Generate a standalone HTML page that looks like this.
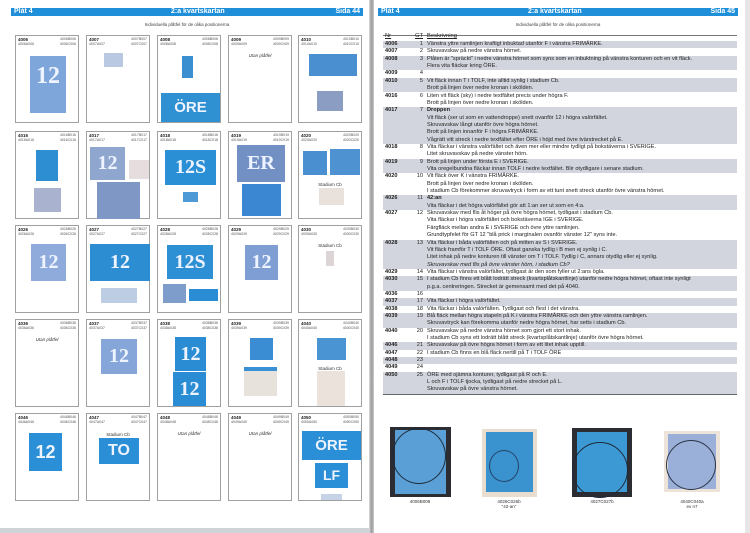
<!DOCTYPE html>
<html><head><meta charset="utf-8">
<style>
*{margin:0;padding:0;box-sizing:border-box}
body{width:750px;height:533px;position:relative;background:#fff;font-family:"Liberation Sans",sans-serif;overflow:hidden;color:#222}
.a{position:absolute}
.bar{position:absolute;top:8px;height:8px;background:#1e8fd8;color:#fff;font-weight:bold;font-size:7px;line-height:8px}
.bar span{position:absolute}
.sub{position:absolute;top:22px;font-size:4.5px;color:#444;text-align:center}
.card{position:absolute;width:64px;height:88px;border:1px solid #a0a0a0;background:#fff}
.card .id{position:absolute;left:2px;top:1px;font-size:4.5px;font-weight:bold}
.card .c{position:absolute;font-size:3.5px;color:#555}
.card .t{position:absolute;left:0;width:62px;text-align:center;font-size:4.5px;color:#333}
.s{position:absolute;color:#eef4ff;font-weight:bold;font-family:"Liberation Serif",serif;text-align:center;overflow:hidden}
.row{position:absolute;left:383px;width:354px;font-size:5.6px;line-height:7.35px;color:#222}
.row.h{background:#d3d5de}
.row .n{position:absolute;left:2px;font-weight:bold}
.row .g{position:absolute;left:30px;width:10px;text-align:right}
.row .d{position:absolute;left:44px;white-space:nowrap}
.cap{position:absolute;font-size:4.5px;text-align:center;color:#333}
</style></head><body>
<!-- page edges -->
<div class="a" style="left:369px;top:0;width:5px;height:533px;background:linear-gradient(90deg,#ddd,#999,#ccc)"></div>
<div class="a" style="left:0;top:528px;width:370px;height:5px;background:#cfd2d6"></div>
<div class="a" style="left:745px;top:0;width:5px;height:533px;background:#e6e6e6"></div>

<!-- LEFT PAGE -->
<div class="bar" style="left:11px;width:352px"><span style="left:3px">Plåt 4</span><span style="left:160px">2:a kvartskartan</span><span style="right:3px">Sida 44</span></div>
<div class="sub" style="left:11px;width:352px">Individuella plåtfel för de olika positionerna</div>

<!-- Row 1 -->
<div class="card" style="left:15px;top:35px"><div class="id">4006</div><div class="c" style="right:2px;top:1px">4006B006</div><div class="c" style="left:2px;top:6px">4006A006</div><div class="c" style="right:2px;top:6px">4006C006</div>
<div class="s" style="left:14px;top:20px;width:36px;height:57px;background:#7fa6da;font-size:24px;line-height:40px">12</div></div>
<div class="card" style="left:86px;top:35px"><div class="id">4007</div><div class="c" style="right:2px;top:1px">4007B007</div><div class="c" style="left:2px;top:6px">4007A007</div><div class="c" style="right:2px;top:6px">4007C007</div>
<div class="s" style="left:17px;top:17px;width:19px;height:14px;background:#b9c9e2"></div></div>
<div class="card" style="left:157px;top:35px"><div class="id">4008</div><div class="c" style="right:2px;top:1px">4008B008</div><div class="c" style="left:2px;top:6px">4008A008</div><div class="c" style="right:2px;top:6px">4008C008</div>
<div class="s" style="left:24px;top:20px;width:11px;height:22px;background:#3a8fd0"></div>
<div class="s" style="left:3px;top:57px;width:59px;height:29px;background:#2f90d2;font-family:'Liberation Sans';font-size:15px;line-height:29px">ÖRE</div></div>
<div class="card" style="left:228px;top:35px"><div class="id">4009</div><div class="c" style="right:2px;top:1px">4009B009</div><div class="c" style="left:2px;top:6px">4009A009</div><div class="c" style="right:2px;top:6px">4009C009</div>
<div class="t" style="top:17px;font-style:italic">Utan plåtfel</div></div>
<div class="card" style="left:298px;top:35px"><div class="id">4010</div><div class="c" style="right:2px;top:1px">4010B010</div><div class="c" style="left:2px;top:6px">4010A010</div><div class="c" style="right:2px;top:6px">4010C010</div>
<div class="s" style="left:10px;top:18px;width:48px;height:22px;background:#4a8fd0"></div>
<div class="s" style="left:18px;top:55px;width:26px;height:20px;background:#8c9dc4"></div></div>

<!-- Row 2 -->
<div class="card" style="left:15px;top:131px"><div class="id">4016</div><div class="c" style="right:2px;top:1px">4016B016</div><div class="c" style="left:2px;top:6px">4016A016</div><div class="c" style="right:2px;top:6px">4016C016</div>
<div class="s" style="left:20px;top:18px;width:22px;height:31px;background:#2d8fd2"></div>
<div class="s" style="left:18px;top:56px;width:27px;height:24px;background:#a9b3cf"></div></div>
<div class="card" style="left:86px;top:131px"><div class="id">4017</div><div class="c" style="right:2px;top:1px">4017B017</div><div class="c" style="left:2px;top:6px">4017A017</div><div class="c" style="right:2px;top:6px">4017C017</div>
<div class="s" style="left:3px;top:15px;width:35px;height:33px;background:#8fa6cf;font-size:20px;line-height:33px">12</div>
<div class="s" style="left:42px;top:28px;width:20px;height:19px;background:#e6dede"></div>
<div class="s" style="left:10px;top:50px;width:43px;height:37px;background:#7e97c5"></div></div>
<div class="card" style="left:157px;top:131px"><div class="id">4018</div><div class="c" style="right:2px;top:1px">4018B018</div><div class="c" style="left:2px;top:6px">4018A018</div><div class="c" style="right:2px;top:6px">4018C018</div>
<div class="s" style="left:7px;top:18px;width:51px;height:35px;background:#2a8fd4;font-size:20px;line-height:35px">12S</div>
<div class="s" style="left:25px;top:60px;width:15px;height:10px;background:#4e9ad6"></div></div>
<div class="card" style="left:228px;top:131px"><div class="id">4019</div><div class="c" style="right:2px;top:1px">4019B019</div><div class="c" style="left:2px;top:6px">4019A019</div><div class="c" style="right:2px;top:6px">4019C019</div>
<div class="s" style="left:8px;top:13px;width:48px;height:37px;background:#7290c4;font-size:20px;line-height:37px">ER</div>
<div class="s" style="left:13px;top:52px;width:39px;height:32px;background:#3b87d2"></div></div>
<div class="card" style="left:298px;top:131px"><div class="id">4020</div><div class="c" style="right:2px;top:1px">4020B020</div><div class="c" style="left:2px;top:6px">4020A020</div><div class="c" style="right:2px;top:6px">4020C020</div>
<div class="s" style="left:4px;top:19px;width:24px;height:24px;background:#4a8fd0"></div>
<div class="s" style="left:31px;top:17px;width:30px;height:26px;background:#4f92d2"></div>
<div class="t" style="top:50px">Stadium Cb</div>
<div class="s" style="left:20px;top:56px;width:25px;height:17px;background:#e8e1dc"></div></div>

<!-- Row 3 -->
<div class="card" style="left:15px;top:225px"><div class="id">4026</div><div class="c" style="right:2px;top:1px">4026B026</div><div class="c" style="left:2px;top:6px">4026A026</div><div class="c" style="right:2px;top:6px">4026C026</div>
<div class="s" style="left:15px;top:18px;width:35px;height:37px;background:#8fabdb;font-size:20px;line-height:37px">12</div></div>
<div class="card" style="left:86px;top:225px"><div class="id">4027</div><div class="c" style="right:2px;top:1px">4027B027</div><div class="c" style="left:2px;top:6px">4027A027</div><div class="c" style="right:2px;top:6px">4027C027</div>
<div class="s" style="left:3px;top:18px;width:60px;height:37px;background:#2c8dd2;font-size:20px;line-height:37px">12</div>
<div class="s" style="left:14px;top:62px;width:36px;height:15px;background:#bccde4"></div></div>
<div class="card" style="left:157px;top:225px"><div class="id">4028</div><div class="c" style="right:2px;top:1px">4028B028</div><div class="c" style="left:2px;top:6px">4028A028</div><div class="c" style="right:2px;top:6px">4028C028</div>
<div class="s" style="left:9px;top:19px;width:46px;height:34px;background:#2e90d4;font-size:20px;line-height:34px">12S</div>
<div class="s" style="left:5px;top:58px;width:23px;height:19px;background:#7f9dcb"></div>
<div class="s" style="left:31px;top:63px;width:29px;height:12px;background:#2a8cd4"></div></div>
<div class="card" style="left:228px;top:225px"><div class="id">4029</div><div class="c" style="right:2px;top:1px">4029B029</div><div class="c" style="left:2px;top:6px">4029A029</div><div class="c" style="right:2px;top:6px">4029C029</div>
<div class="s" style="left:16px;top:19px;width:33px;height:35px;background:#7f9ed4;font-size:20px;line-height:35px">12</div></div>
<div class="card" style="left:298px;top:225px"><div class="id">4030</div><div class="c" style="right:2px;top:1px">4030B030</div><div class="c" style="left:2px;top:6px">4030A030</div><div class="c" style="right:2px;top:6px">4030C030</div>
<div class="t" style="top:17px">Stadium Cb</div>
<div class="s" style="left:27px;top:25px;width:8px;height:15px;background:#ddd5d5"></div></div>

<!-- Row 4 -->
<div class="card" style="left:15px;top:319px"><div class="id">4036</div><div class="c" style="right:2px;top:1px">4036B036</div><div class="c" style="left:2px;top:6px">4036A036</div><div class="c" style="right:2px;top:6px">4036C036</div>
<div class="t" style="top:17px;font-style:italic">Utan plåtfel</div></div>
<div class="card" style="left:86px;top:319px"><div class="id">4037</div><div class="c" style="right:2px;top:1px">4037B037</div><div class="c" style="left:2px;top:6px">4037A037</div><div class="c" style="right:2px;top:6px">4037C037</div>
<div class="s" style="left:14px;top:19px;width:36px;height:35px;background:#86a5d8;font-size:20px;line-height:35px">12</div></div>
<div class="card" style="left:157px;top:319px"><div class="id">4038</div><div class="c" style="right:2px;top:1px">4038B038</div><div class="c" style="left:2px;top:6px">4038A038</div><div class="c" style="right:2px;top:6px">4038C038</div>
<div class="s" style="left:17px;top:17px;width:31px;height:34px;background:#2a8dd4;font-size:20px;line-height:34px">12</div>
<div class="s" style="left:15px;top:52px;width:33px;height:34px;background:#2a8dd4;font-size:20px;line-height:34px">12</div></div>
<div class="card" style="left:228px;top:319px"><div class="id">4039</div><div class="c" style="right:2px;top:1px">4039B039</div><div class="c" style="left:2px;top:6px">4039A039</div><div class="c" style="right:2px;top:6px">4039C039</div>
<div class="s" style="left:21px;top:18px;width:23px;height:22px;background:#3a8dd2"></div>
<div class="s" style="left:15px;top:47px;width:33px;height:29px;background:#e8e2dc;border-top:4px solid #3a90d4"></div></div>
<div class="card" style="left:298px;top:319px"><div class="id">4040</div><div class="c" style="right:2px;top:1px">4040B040</div><div class="c" style="left:2px;top:6px">4040A040</div><div class="c" style="right:2px;top:6px">4040C040</div>
<div class="s" style="left:18px;top:18px;width:29px;height:22px;background:#4a94d4"></div>
<div class="t" style="top:46px">Stadium Cb</div>
<div class="s" style="left:18px;top:51px;width:28px;height:35px;background:#ebe2dc"></div></div>

<!-- Row 5 -->
<div class="card" style="left:15px;top:413px"><div class="id">4046</div><div class="c" style="right:2px;top:1px">4046B046</div><div class="c" style="left:2px;top:6px">4046A046</div><div class="c" style="right:2px;top:6px">4046C046</div>
<div class="s" style="left:13px;top:19px;width:33px;height:38px;background:#2a8fd6;font-family:'Liberation Sans';font-size:18px;line-height:38px">12</div></div>
<div class="card" style="left:86px;top:413px"><div class="id">4047</div><div class="c" style="right:2px;top:1px">4047B047</div><div class="c" style="left:2px;top:6px">4047A047</div><div class="c" style="right:2px;top:6px">4047C047</div>
<div class="t" style="top:18px">Stadium Cb</div>
<div class="s" style="left:12px;top:24px;width:40px;height:26px;background:#2a8fd6;font-family:'Liberation Sans';font-size:16px;line-height:26px">TO</div></div>
<div class="card" style="left:157px;top:413px"><div class="id">4048</div><div class="c" style="right:2px;top:1px">4048B048</div><div class="c" style="left:2px;top:6px">4048A048</div><div class="c" style="right:2px;top:6px">4048C048</div>
<div class="t" style="top:17px;font-style:italic">Utan plåtfel</div></div>
<div class="card" style="left:228px;top:413px"><div class="id">4049</div><div class="c" style="right:2px;top:1px">4049B049</div><div class="c" style="left:2px;top:6px">4049A049</div><div class="c" style="right:2px;top:6px">4049C049</div>
<div class="t" style="top:17px;font-style:italic">Utan plåtfel</div></div>
<div class="card" style="left:298px;top:413px"><div class="id">4050</div><div class="c" style="right:2px;top:1px">4050B050</div><div class="c" style="left:2px;top:6px">4050A050</div><div class="c" style="right:2px;top:6px">4050C050</div>
<div class="s" style="left:3px;top:17px;width:59px;height:29px;background:#2a8fd6;font-family:'Liberation Sans';font-size:15px;line-height:29px">ÖRE</div>
<div class="s" style="left:16px;top:49px;width:33px;height:25px;background:#2a8fd6;font-family:'Liberation Sans';font-size:14px;line-height:25px">LF</div>
<div class="s" style="left:22px;top:80px;width:21px;height:6px;background:#c6d2e6"></div></div>

<!-- RIGHT PAGE -->
<div class="bar" style="left:378px;width:360px"><span style="left:3px">Plåt 4</span><span style="left:150px">2:a kvartskartan</span><span style="right:3px">Sida 45</span></div>
<div class="sub" style="left:378px;width:360px">Individuella plåtfel för de olika positionerna</div>
<div class="a" style="left:383px;top:35px;width:354px;height:1px;background:#777"></div>
<div class="row" style="top:33px;font-size:5.8px"><span class="n" style="font-weight:normal;text-decoration:underline">Nr</span><span class="g" style="text-decoration:underline">GT</span><span class="d" style="text-decoration:underline">Beskrivning</span></div>

<div class="row h" style="top:41.0px;height:7.35px"><span class="n">4006</span><span class="g">1</span><span class="d">Vänstra yttre ramlinjen kraftigt inbuktad utanför F i vänstra FRIMÄRKE.</span></div>
<div class="row" style="top:48.4px;height:7.35px"><span class="n">4007</span><span class="g">2</span><span class="d">Skruvavskav på nedre vänstra hörnet.</span></div>
<div class="row h" style="top:55.7px;height:14.7px"><span class="n">4008</span><span class="g">3</span><span class="d">Plåten är "spräckt" i nedre vänstra hörnet som syns som en inbuktning på vänstra konturen och en vit fläck.<br>Flera vita fläckar kring ÖRE.</span></div>
<div class="row" style="top:70.4px;height:7.35px"><span class="n">4009</span><span class="g">4</span></div>
<div class="row h" style="top:77.8px;height:14.7px"><span class="n">4010</span><span class="g">5</span><span class="d">Vit fläck innan T i TOLF, inte alltid synlig i stadium Cb.<br>Brott på linjen över nedre kronan i skölden.</span></div>
<div class="row" style="top:92.5px;height:14.7px"><span class="n">4016</span><span class="g">6</span><span class="d">Liten vit fläck (sky) i nedre textfältet precis under högra F.<br>Brott på linjen över nedre kronan i skölden.</span></div>
<div class="row h" style="top:107.2px;height:36.75px"><span class="n">4017</span><span class="g">7</span><span class="d"><b>Droppen</b><br>Vit fläck (ser ut som en vattendroppe) snett ovanför 12 i högra valörfältet.<br>Skruvavskav långt utanför övre högra hörnet.<br>Brott på linjen innanför F i högra FRIMÄRKE.<br>Vågrätt vitt streck i nedre textfältet efter ÖRE i höjd med övre tvärstrecket på E.</span></div>
<div class="row" style="top:144.0px;height:14.7px"><span class="n">4018</span><span class="g">8</span><span class="d">Vita fläckar i vänstra valörfältet och även mer eller mindre tydligt på bokstäverna i SVERIGE.<br>Litet skruvavskav på nedre vänster hörn.</span></div>
<div class="row h" style="top:158.7px;height:14.7px"><span class="n">4019</span><span class="g">9</span><span class="d">Brott på linjen under första E i SVERIGE.<br>Vita oregelbundna fläckar innan TOLF i nedre textfältet. Blir otydligare i senare stadium.</span></div>
<div class="row" style="top:173.4px;height:22.05px"><span class="n">4020</span><span class="g">10</span><span class="d">Vit fläck över K i vänstra FRIMÄRKE.<br>Brott på linjen över nedre kronan i skölden.<br>I stadium Cb förekommer skruvavtryck i form av ett tunt snett streck utanför övre vänstra hörnet.</span></div>
<div class="row h" style="top:195.4px;height:14.7px"><span class="n">4026</span><span class="g">11</span><span class="d"><b>42:an</b><br>Vita fläckar i det högra valörfältet gör att 1:an ser ut som en 4:a.</span></div>
<div class="row" style="top:210.1px;height:29.4px"><span class="n">4027</span><span class="g">12</span><span class="d">Skruvavskav med flis åt höger på övre högra hörnet, tydligast i stadium Cb.<br>Vita fläckar i högra valörfältet och bokstäverna IGE i SVERIGE.<br>Färgfläck mellan andra E i SVERIGE och övre yttre ramlinjen.<br>Grundtypfelet för GT 12 "blå prick i marginalen ovanför vänster 12" syns inte.</span></div>
<div class="row h" style="top:239.5px;height:29.4px"><span class="n">4028</span><span class="g">13</span><span class="d">Vita fläckar i båda valörfälten och på mitten av S i SVERIGE.<br>Vit fläck framför T i TOLF ÖRE. Oftast ganska tydlig i B men ej synlig i C.<br>Litet inhak på nedre konturen till vänster om T i TOLF. Tydlig i C, annars otydlig eller ej synlig.<br><i>Skruvavskav med flis på övre vänster hörn, i stadium Cb?</i></span></div>
<div class="row" style="top:268.9px;height:7.35px"><span class="n">4029</span><span class="g">14</span><span class="d">Vita fläckar i vänstra valörfältet, tydligast är den som fyller ut 2:ans ögla.</span></div>
<div class="row h" style="top:276.2px;height:14.7px"><span class="n">4030</span><span class="g">15</span><span class="d">I stadium Cb finns ett blått lodrätt streck (kvartsplåtskantlinje) utanför nedre högra hörnet, oftast inte synligt<br>p.g.a. centreringen. Strecket är gemensamt med det på 4040.</span></div>
<div class="row" style="top:290.9px;height:7.35px"><span class="n">4036</span><span class="g">16</span></div>
<div class="row h" style="top:298.3px;height:7.35px"><span class="n">4037</span><span class="g">17</span><span class="d">Vita fläckar i högra valörfältet.</span></div>
<div class="row" style="top:305.6px;height:7.35px"><span class="n">4038</span><span class="g">18</span><span class="d">Vita fläckar i båda valörfälten. Tydligast och flest i det vänstra.</span></div>
<div class="row h" style="top:313.0px;height:14.7px"><span class="n">4039</span><span class="g">19</span><span class="d">Blå fläck mellan högra stapeln på K i vänstra FRIMÄRKE och den yttre vänstra ramlinjen.<br>Skruvavtryck kan förekomma utanför nedre högra hörnet, har setts i stadium Cb.</span></div>
<div class="row" style="top:327.7px;height:14.7px"><span class="n">4040</span><span class="g">20</span><span class="d">Skruvavskav på nedre vänstra hörnet som gjort ett stort inhak.<br>I stadium Cb syns ett lodrätt blått streck (kvartsplåtskantlinje) utanför övre högra hörnet.</span></div>
<div class="row h" style="top:342.4px;height:7.35px"><span class="n">4046</span><span class="g">21</span><span class="d">Skruvavskav på övre högra hörnet i form av ett litet inhak upptill.</span></div>
<div class="row" style="top:349.7px;height:7.35px"><span class="n">4047</span><span class="g">22</span><span class="d">I stadium Cb finns en blå fläck nertill på T i TOLF ÖRE</span></div>
<div class="row h" style="top:357.1px;height:7.35px"><span class="n">4048</span><span class="g">23</span></div>
<div class="row" style="top:364.4px;height:7.35px"><span class="n">4049</span><span class="g">24</span></div>
<div class="row h" style="top:371.8px;height:22.05px"><span class="n">4050</span><span class="g">25</span><span class="d">ÖRE med ojämna konturer, tydligast på R och E.<br>L och F i TOLF tjocka, tydligast på nedre strecket på L.<br>Skruvavskav på övre vänstra hörnet.</span></div>
<div class="a" style="left:383px;top:394px;width:354px;height:1px;background:#666"></div>

<!-- stamps -->
<div class="a" style="left:390px;top:427px;width:61px;height:70px;background:#2b2d33"></div>
<div class="a" style="left:395px;top:430px;width:51px;height:64px;background:#5aa0d6"></div>
<div class="a" style="left:392px;top:428px;width:54px;height:56px;border:1.5px solid #1d2a3a;border-radius:50%"></div>
<div class="cap" style="left:385px;top:499px;width:70px">4006B008</div>

<div class="a" style="left:482px;top:429px;width:55px;height:68px;background:#e9ddd0"></div>
<div class="a" style="left:486px;top:432px;width:47px;height:60px;background:#3a92cf"></div>
<div class="a" style="left:489px;top:450px;width:30px;height:32px;border:1px solid #25446a;border-radius:50%"></div>
<div class="cap" style="left:474px;top:499px;width:70px">4026C026b<br>"42-an"</div>

<div class="a" style="left:572px;top:428px;width:60px;height:69px;background:#2b2d33"></div>
<div class="a" style="left:577px;top:432px;width:50px;height:60px;background:#3c99d4"></div>
<div class="a" style="left:572px;top:442px;width:56px;height:56px;border:1.5px solid #1d2a3a;border-radius:50%"></div>
<div class="cap" style="left:567px;top:499px;width:70px">4027C027b</div>

<div class="a" style="left:664px;top:431px;width:56px;height:61px;background:#ede3d8"></div>
<div class="a" style="left:668px;top:434px;width:48px;height:55px;background:#9bb0d8"></div>
<div class="a" style="left:666px;top:440px;width:50px;height:50px;border:1.5px solid #2a3347;border-radius:50%"></div>
<div class="cap" style="left:657px;top:499px;width:70px">4040C040a<br>ex n7</div>
</body></html>
